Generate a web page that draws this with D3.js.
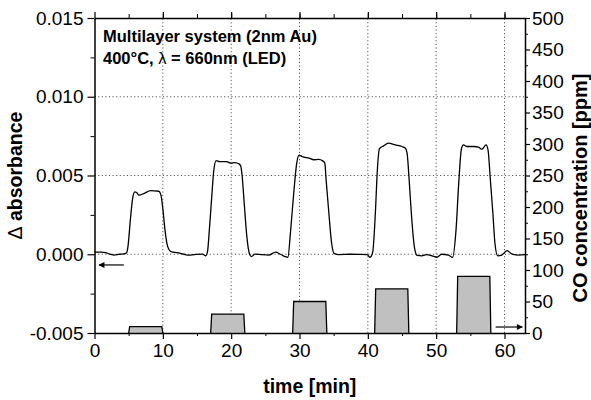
<!DOCTYPE html>
<html>
<head>
<meta charset="utf-8">
<script src="https://cdn.jsdelivr.net/npm/d3@7"></script>
<style>
  body { margin: 0; background: #fff; }
  svg { display: block; font-family: "Liberation Sans", Arial, sans-serif; }
</style>
</head>
<body>
<svg id="chart"></svg>
<script>
// absorbance trace
const time = [0, 1.0, 1.6, 2.3, 2.9, 3.6, 4.3, 4.7, 4.9, 5.25, 5.6, 5.9, 6.2, 6.5, 7.3, 8.2, 9.4, 9.7,
  10.0, 10.3, 10.7, 11.2, 12.1, 13.1, 13.8, 14.6, 15.8, 16.3, 16.55, 16.8, 17.15, 17.45, 17.8, 18.3,
  19.3, 20.0, 20.5, 21.2, 21.4, 21.6, 21.95, 22.3, 22.65, 22.95, 23.5, 24.5, 25.5, 26.5, 27.2, 27.9,
  28.3, 28.7, 29.2, 29.6, 29.95, 30.4, 31.4, 32.1, 32.8, 33.4, 33.7, 33.9, 34.3, 34.7, 35.05, 35.8,
  37.3, 38.7, 39.9, 40.3, 40.7, 41.1, 41.4, 41.7, 42.3, 43.0, 44.0, 45.0, 45.5, 45.75, 46.05, 46.4,
  46.8, 47.2, 47.9, 48.6, 49.4, 50.1, 50.8, 51.8, 52.4, 52.9, 53.3, 53.7, 54.0, 54.5, 55.5, 56.2,
  56.7, 57.3, 57.6, 57.9, 58.3, 58.6, 59.0, 59.6, 60.4, 61.1, 62.1, 63.0];
const absorbance = [0.00013, 0.00013, 0.0001, 0.0, -0.00005, 0.0, 0.00002, 0.0001, 0.0005, 0.0022, 0.0036, 0.00396, 0.0039, 0.00375, 0.00387, 0.00404, 0.004, 0.0038,
  0.0029, 0.0016, 0.0005, 0.00017, 0.0001, 0.0, -0.00005, -0.00002, 0.00001, -0.0001, 0.0002, 0.0015, 0.0036, 0.0053, 0.00595, 0.00588,
  0.00588, 0.00578, 0.00582, 0.00572, 0.0056, 0.005, 0.003, 0.0011, 0.00006, -0.00015, 0.00001, -0.00003, -0.00005, 0.00013, 0.0, -0.00015,
  -0.00019, 0.0015, 0.0041, 0.0058, 0.0063, 0.0062, 0.0061, 0.006, 0.00602, 0.00593, 0.0058, 0.0047, 0.0026, 0.0007, 0.00006, -0.00002,
  0.0, -0.00001, -0.00003, -0.00019, 0.0001, 0.0026, 0.0054, 0.0067, 0.00688, 0.00705, 0.00694, 0.00684, 0.00673, 0.0064, 0.0047, 0.0024,
  0.0005, -0.00007, -0.0001, -0.00002, -0.0001, -0.00019, 0.0, -0.00005, -0.0002, 0.0015, 0.0045, 0.0067, 0.00694, 0.00684, 0.00684, 0.0068,
  0.00667, 0.00694, 0.0066, 0.0049, 0.0026, 0.0007, -0.0001, -0.00005, 0.00023, 0.00001, -0.00005, -0.00003];

// CO pulses
const pulseStart = [5, 17, 29, 41, 53];
const pulseEnd = [10, 22, 34, 46, 58];
const pulsePpm = [10, 30, 50, 70, 90];

const xTicks = [0, 10, 20, 30, 40, 50, 60];
const yLeftTicks = [-0.005, 0.000, 0.005, 0.010, 0.015];
const yRightTicks = [0, 50, 100, 150, 200, 250, 300, 350, 400, 450, 500];

const width = 591, height = 400;
const margin = { top: 18, right: 66, bottom: 67, left: 94.5 };

const svg = d3.select('#chart')
  .attr('width', width)
  .attr('height', height);

const x = d3.scaleLinear().domain([0, 63]).range([margin.left, width - margin.right]);
const y = d3.scaleLinear().domain([-0.005, 0.015]).range([height - margin.bottom, margin.top]);
const y2 = d3.scaleLinear().domain([0, 500]).range([height - margin.bottom, margin.top]);

// grid
const grid = svg.append('g')
  .attr('stroke', '#555')
  .attr('stroke-width', 1)
  .attr('stroke-dasharray', '1.2,2.4');
grid.selectAll('.vg')
  .data(xTicks.slice(1))
  .enter()
  .append('line')
  .attr('x1', d => x(d)).attr('x2', d => x(d))
  .attr('y1', y.range()[0]).attr('y2', y.range()[1]);
grid.selectAll('.hg')
  .data([0.000, 0.005, 0.010])
  .enter()
  .append('line')
  .attr('x1', x.range()[0]).attr('x2', x.range()[1])
  .attr('y1', d => y(d)).attr('y2', d => y(d));

// CO pulses (trapezoids)
const edge = 0.15;
const pulses = pulseStart.map((s, i) => [
  [s, 0], [s + edge, pulsePpm[i]], [pulseEnd[i] - edge, pulsePpm[i]], [pulseEnd[i], 0]
]);
svg.selectAll('.pulse')
  .data(pulses)
  .enter()
  .append('path')
  .attr('d', p => d3.line().x(d => x(d[0])).y(d => y2(d[1]))(p))
  .attr('fill', '#c0c0c0')
  .attr('stroke', '#000')
  .attr('stroke-width', 1.3);

// absorbance line
const line = d3.line()
  .x((d, i) => x(time[i]))
  .y(d => y(d))
  .curve(d3.curveMonotoneX);
svg.append('path')
  .attr('d', line(absorbance))
  .attr('fill', 'none')
  .attr('stroke', '#000')
  .attr('stroke-width', 1.3);

// axes
const styleAxis = g => {
  g.select('.domain').attr('stroke-width', 1.5);
  g.selectAll('.tick line').attr('stroke-width', 1.2);
  g.selectAll('.tick text').attr('font-size', 19).attr('fill', '#000');
};

svg.append('g')
  .attr('transform', `translate(0,${y.range()[0]})`)
  .call(d3.axisBottom(x).tickValues(d3.range(5, 63, 10)).tickSize(3).tickFormat(''))
  .call(g => g.select('.domain').remove());
svg.append('g')
  .attr('transform', `translate(0,${y.range()[0]})`)
  .call(d3.axisBottom(x).tickValues(xTicks).tickSize(6).tickSizeOuter(0).tickPadding(5))
  .call(styleAxis);

svg.append('g')
  .attr('transform', `translate(0,${y.range()[1]})`)
  .call(d3.axisBottom(x).tickValues(d3.range(5, 63, 5)).tickSize(-4).tickFormat(''))
  .call(g => g.select('.domain').remove());
svg.append('g')
  .attr('transform', `translate(0,${y.range()[1]})`)
  .call(d3.axisBottom(x).tickValues(xTicks).tickSize(-6).tickSizeOuter(0).tickFormat(''))
  .call(styleAxis);

svg.append('g')
  .attr('transform', `translate(${x.range()[0]},0)`)
  .call(d3.axisLeft(y).tickValues(d3.range(-0.0025, 0.015, 0.005)).tickSize(4).tickFormat(''))
  .call(g => g.select('.domain').remove());
svg.append('g')
  .attr('transform', `translate(${x.range()[0]},0)`)
  .call(d3.axisLeft(y).tickValues(yLeftTicks).tickSize(7).tickSizeOuter(0).tickPadding(4).tickFormat(d3.format('.3f')))
  .call(styleAxis)
  .call(g => g.selectAll('.tick text').text(d => d3.format('.3f')(d).replace('−', '-')));

svg.append('g')
  .attr('transform', `translate(${x.range()[1]},0)`)
  .call(d3.axisRight(y2).tickValues(d3.range(25, 500, 50)).tickSize(3).tickFormat(''))
  .call(g => g.select('.domain').remove());
svg.append('g')
  .attr('transform', `translate(${x.range()[1]},0)`)
  .call(d3.axisRight(y2).tickValues(yRightTicks).tickSize(5).tickSizeOuter(0).tickPadding(2))
  .call(styleAxis);

// arrows
const defs = svg.append('defs');
defs.append('marker')
  .attr('id', 'head')
  .attr('viewBox', '0 0 10 10')
  .attr('refX', 9).attr('refY', 5)
  .attr('markerWidth', 9).attr('markerHeight', 6)
  .attr('orient', 'auto')
  .attr('markerUnits', 'userSpaceOnUse')
  .append('path')
  .attr('d', 'M0,0 L10,5 L0,10 Z')
  .attr('fill', '#000');

svg.append('line')
  .attr('x1', x(4.3)).attr('x2', x(0.66))
  .attr('y1', y(-0.00068)).attr('y2', y(-0.00068))
  .attr('stroke', '#000').attr('stroke-width', 1.2)
  .attr('marker-end', 'url(#head)');
svg.append('line')
  .attr('x1', x(58.7)).attr('x2', x(62.6))
  .attr('y1', y2(9.5)).attr('y2', y2(9.5))
  .attr('stroke', '#000').attr('stroke-width', 1.2)
  .attr('marker-end', 'url(#head)');

// annotation
const note = svg.append('text')
  .attr('font-size', 16.5)
  .attr('font-weight', 'bold');
note.append('tspan').attr('x', 103).attr('y', 41.5).text('Multilayer system (2nm Au)');
const l2 = note.append('tspan').attr('x', 103).attr('y', 63.5);
l2.append('tspan').text('400°C, ');
l2.append('tspan').attr('font-weight', 'normal').text('λ');
l2.append('tspan').text(' = 660nm (LED)');

// axis titles
svg.append('text')
  .attr('x', (x.range()[0] + x.range()[1]) / 2)
  .attr('y', 393)
  .attr('text-anchor', 'middle')
  .attr('font-size', 19.5)
  .attr('font-weight', 'bold')
  .text('time [min]');

const lt = svg.append('text')
  .attr('transform', `translate(22,${(y.range()[0] + y.range()[1]) / 2}) rotate(-90)`)
  .attr('text-anchor', 'middle')
  .attr('font-size', 19.5)
  .attr('font-weight', 'bold');
lt.append('tspan').attr('font-weight', 'normal').text('Δ');
lt.append('tspan').text(' absorbance');

svg.append('text')
  .attr('transform', `translate(587,188) rotate(-90)`)
  .attr('text-anchor', 'middle')
  .attr('font-size', 20)
  .attr('font-weight', 'bold')
  .text('CO concentration [ppm]');
</script>
</body>
</html>
